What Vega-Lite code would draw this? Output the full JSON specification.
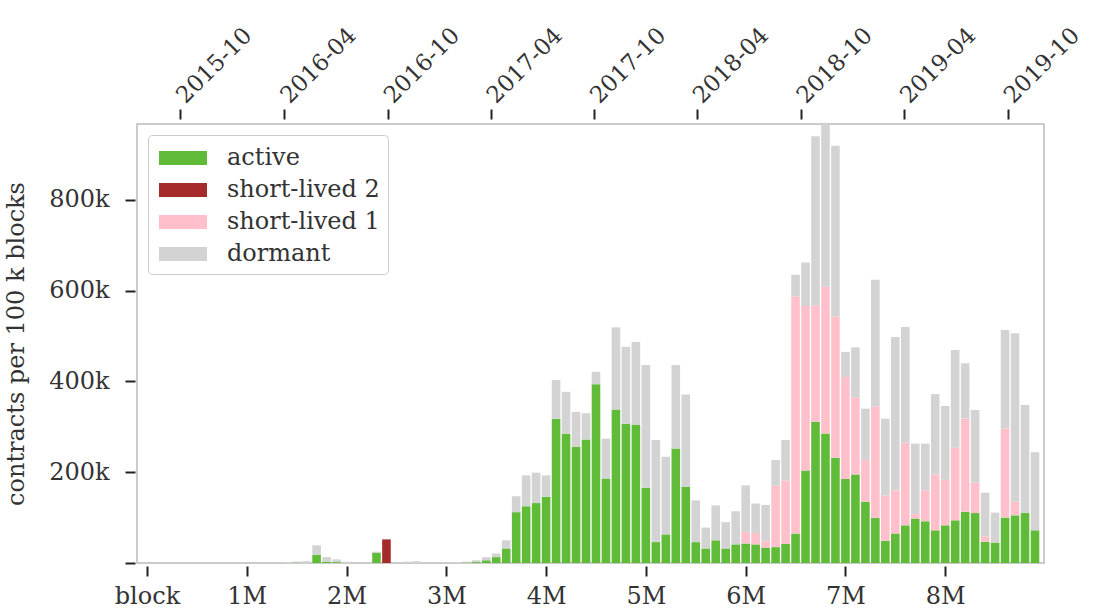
{
  "$schema": "https://vega.github.io/schema/vega-lite/v6.json",
  "width": 907,
  "height": 439,
  "autosize": {"type": "none"},
  "padding": {"left": 137, "top": 124, "right": 50, "bottom": 50},
  "config": {
    "view": {"stroke": "#bbbbbb", "strokeWidth": 1.5},
    "font": "DejaVu Serif"
  },
  "data": {
    "values": [
      {"b": 1400000, "active": 0, "short-lived 2": 0, "short-lived 1": 0, "dormant": 2000},
      {"b": 1500000, "active": 1000, "short-lived 2": 0, "short-lived 1": 0, "dormant": 2000},
      {"b": 1600000, "active": 0, "short-lived 2": 0, "short-lived 1": 0, "dormant": 4000},
      {"b": 1700000, "active": 18000, "short-lived 2": 0, "short-lived 1": 0, "dormant": 21000},
      {"b": 1800000, "active": 3000, "short-lived 2": 0, "short-lived 1": 0, "dormant": 10000},
      {"b": 1900000, "active": 2000, "short-lived 2": 0, "short-lived 1": 0, "dormant": 6000},
      {"b": 2000000, "active": 0, "short-lived 2": 0, "short-lived 1": 0, "dormant": 3000},
      {"b": 2300000, "active": 22000, "short-lived 2": 0, "short-lived 1": 0, "dormant": 3000},
      {"b": 2400000, "active": 0, "short-lived 2": 52000, "short-lived 1": 0, "dormant": 0},
      {"b": 2600000, "active": 0, "short-lived 2": 0, "short-lived 1": 0, "dormant": 3000},
      {"b": 2700000, "active": 0, "short-lived 2": 0, "short-lived 1": 0, "dormant": 4000},
      {"b": 3000000, "active": 0, "short-lived 2": 0, "short-lived 1": 0, "dormant": 1000},
      {"b": 3100000, "active": 0, "short-lived 2": 0, "short-lived 1": 0, "dormant": 2000},
      {"b": 3200000, "active": 1000, "short-lived 2": 0, "short-lived 1": 0, "dormant": 2000},
      {"b": 3300000, "active": 2000, "short-lived 2": 0, "short-lived 1": 0, "dormant": 4000},
      {"b": 3400000, "active": 6000, "short-lived 2": 0, "short-lived 1": 0, "dormant": 7000},
      {"b": 3500000, "active": 13000, "short-lived 2": 0, "short-lived 1": 0, "dormant": 8000},
      {"b": 3600000, "active": 32000, "short-lived 2": 0, "short-lived 1": 0, "dormant": 18000},
      {"b": 3700000, "active": 112000, "short-lived 2": 0, "short-lived 1": 0, "dormant": 35000},
      {"b": 3800000, "active": 125000, "short-lived 2": 0, "short-lived 1": 0, "dormant": 68000},
      {"b": 3900000, "active": 132000, "short-lived 2": 0, "short-lived 1": 0, "dormant": 67000},
      {"b": 4000000, "active": 146000, "short-lived 2": 0, "short-lived 1": 0, "dormant": 47000},
      {"b": 4100000, "active": 318000, "short-lived 2": 0, "short-lived 1": 0, "dormant": 85000},
      {"b": 4200000, "active": 284000, "short-lived 2": 0, "short-lived 1": 0, "dormant": 93000},
      {"b": 4300000, "active": 256000, "short-lived 2": 0, "short-lived 1": 0, "dormant": 77000},
      {"b": 4400000, "active": 272000, "short-lived 2": 0, "short-lived 1": 0, "dormant": 58000},
      {"b": 4500000, "active": 394000, "short-lived 2": 0, "short-lived 1": 0, "dormant": 27000},
      {"b": 4600000, "active": 186000, "short-lived 2": 0, "short-lived 1": 0, "dormant": 88000},
      {"b": 4700000, "active": 338000, "short-lived 2": 0, "short-lived 1": 0, "dormant": 181000},
      {"b": 4800000, "active": 307000, "short-lived 2": 0, "short-lived 1": 0, "dormant": 169000},
      {"b": 4900000, "active": 304000, "short-lived 2": 0, "short-lived 1": 0, "dormant": 183000},
      {"b": 5000000, "active": 166000, "short-lived 2": 0, "short-lived 1": 0, "dormant": 270000},
      {"b": 5100000, "active": 46000, "short-lived 2": 0, "short-lived 1": 0, "dormant": 225000},
      {"b": 5200000, "active": 63000, "short-lived 2": 0, "short-lived 1": 0, "dormant": 171000},
      {"b": 5300000, "active": 252000, "short-lived 2": 0, "short-lived 1": 0, "dormant": 184000},
      {"b": 5400000, "active": 168000, "short-lived 2": 0, "short-lived 1": 0, "dormant": 203000},
      {"b": 5500000, "active": 46000, "short-lived 2": 0, "short-lived 1": 0, "dormant": 92000},
      {"b": 5600000, "active": 32000, "short-lived 2": 0, "short-lived 1": 0, "dormant": 46000},
      {"b": 5700000, "active": 50000, "short-lived 2": 0, "short-lived 1": 0, "dormant": 77000},
      {"b": 5800000, "active": 32000, "short-lived 2": 0, "short-lived 1": 0, "dormant": 58000},
      {"b": 5900000, "active": 41000, "short-lived 2": 0, "short-lived 1": 0, "dormant": 73000},
      {"b": 6000000, "active": 43000, "short-lived 2": 0, "short-lived 1": 25000, "dormant": 103000},
      {"b": 6100000, "active": 41000, "short-lived 2": 0, "short-lived 1": 25000, "dormant": 65000},
      {"b": 6200000, "active": 34000, "short-lived 2": 0, "short-lived 1": 14000, "dormant": 80000},
      {"b": 6300000, "active": 35000, "short-lived 2": 0, "short-lived 1": 135000, "dormant": 57000},
      {"b": 6400000, "active": 42000, "short-lived 2": 0, "short-lived 1": 140000, "dormant": 89000},
      {"b": 6500000, "active": 65000, "short-lived 2": 0, "short-lived 1": 522000, "dormant": 48000},
      {"b": 6600000, "active": 204000, "short-lived 2": 0, "short-lived 1": 362000, "dormant": 96000},
      {"b": 6700000, "active": 311000, "short-lived 2": 0, "short-lived 1": 257000, "dormant": 372000},
      {"b": 6800000, "active": 285000, "short-lived 2": 0, "short-lived 1": 324000, "dormant": 361000},
      {"b": 6900000, "active": 232000, "short-lived 2": 0, "short-lived 1": 311000, "dormant": 376000},
      {"b": 7000000, "active": 185000, "short-lived 2": 0, "short-lived 1": 225000, "dormant": 55000},
      {"b": 7100000, "active": 195000, "short-lived 2": 0, "short-lived 1": 170000, "dormant": 110000},
      {"b": 7200000, "active": 135000, "short-lived 2": 0, "short-lived 1": 92000, "dormant": 113000},
      {"b": 7300000, "active": 99000, "short-lived 2": 0, "short-lived 1": 246000, "dormant": 279000},
      {"b": 7400000, "active": 49000, "short-lived 2": 0, "short-lived 1": 100000, "dormant": 169000},
      {"b": 7500000, "active": 65000, "short-lived 2": 0, "short-lived 1": 95000, "dormant": 338000},
      {"b": 7600000, "active": 83000, "short-lived 2": 0, "short-lived 1": 182000, "dormant": 255000},
      {"b": 7700000, "active": 98000, "short-lived 2": 0, "short-lived 1": 10000, "dormant": 155000},
      {"b": 7800000, "active": 92000, "short-lived 2": 0, "short-lived 1": 68000, "dormant": 103000},
      {"b": 7900000, "active": 72000, "short-lived 2": 0, "short-lived 1": 123000, "dormant": 177000},
      {"b": 8000000, "active": 83000, "short-lived 2": 0, "short-lived 1": 100000, "dormant": 163000},
      {"b": 8100000, "active": 94000, "short-lived 2": 0, "short-lived 1": 160000, "dormant": 215000},
      {"b": 8200000, "active": 113000, "short-lived 2": 0, "short-lived 1": 205000, "dormant": 122000},
      {"b": 8300000, "active": 110000, "short-lived 2": 0, "short-lived 1": 67000, "dormant": 160000},
      {"b": 8400000, "active": 47000, "short-lived 2": 0, "short-lived 1": 12000, "dormant": 96000},
      {"b": 8500000, "active": 45000, "short-lived 2": 0, "short-lived 1": 0, "dormant": 66000},
      {"b": 8600000, "active": 100000, "short-lived 2": 0, "short-lived 1": 196000, "dormant": 217000},
      {"b": 8700000, "active": 105000, "short-lived 2": 0, "short-lived 1": 30000, "dormant": 371000},
      {"b": 8800000, "active": 110000, "short-lived 2": 0, "short-lived 1": 0, "dormant": 238000},
      {"b": 8900000, "active": 72000, "short-lived 2": 0, "short-lived 1": 0, "dormant": 172000}
    ]
  },
  "transform": [
    {"fold": ["active", "short-lived 2", "short-lived 1", "dormant"], "as": ["cat", "v"]},
    {"filter": "datum.v > 0"},
    {"calculate": "indexof(['active', 'short-lived 2', 'short-lived 1', 'dormant'], datum.cat)", "as": "k"}
  ],
  "layer": [
    {
      "mark": {"type": "bar", "width": 8.6, "clip": true},
      "encoding": {
        "x": {
          "field": "b",
          "type": "quantitative",
          "scale": {"domain": [-50000, 8940000], "nice": false, "zero": false},
          "axis": {
            "orient": "bottom",
            "values": [0, 1000000, 2000000, 3000000, 4000000, 5000000, 6000000, 7000000, 8000000],
            "labelExpr": "datum.value == 0 ? 'block' : format(datum.value / 1000000, 'd') + 'M'",
            "domain": false,
            "grid": false,
            "tickSize": 10,
            "tickWidth": 2,
            "tickColor": "#222222",
            "offset": 3,
            "labelFont": "DejaVu Serif",
            "labelFontSize": 24,
            "labelColor": "#333333",
            "labelPadding": 8,
            "title": null
          }
        },
        "y": {
          "field": "v",
          "type": "quantitative",
          "stack": "zero",
          "scale": {"domain": [0, 967000], "nice": false},
          "axis": {
            "values": [0, 200000, 400000, 600000, 800000],
            "labelExpr": "datum.value == 0 ? '' : format(datum.value / 1000, 'd') + 'k'",
            "domain": false,
            "grid": false,
            "tickSize": 10,
            "tickWidth": 2,
            "tickColor": "#222222",
            "offset": 2,
            "labelFont": "DejaVu Serif",
            "labelFontSize": 24,
            "labelColor": "#333333",
            "labelPadding": 16,
            "title": "contracts per 100 k blocks",
            "titleFont": "DejaVu Serif",
            "titleFontSize": 24,
            "titleFontWeight": "normal",
            "titleColor": "#333333",
            "titlePadding": 20
          }
        },
        "color": {
          "field": "cat",
          "type": "nominal",
          "sort": ["active", "short-lived 2", "short-lived 1", "dormant"],
          "scale": {
            "domain": ["active", "short-lived 2", "short-lived 1", "dormant"],
            "range": ["#60bb38", "#a52a2a", "#ffc0cb", "#d3d3d3"]
          },
          "legend": {
            "title": null,
            "orient": "top-left",
            "offset": 11,
            "fillColor": "white",
            "strokeColor": "#cccccc",
            "cornerRadius": 4,
            "padding": 8,
            "symbolType": "M-0.8,-0.47H2.4V0.47H-0.8Z",
            "symbolSize": 900,
            "symbolStrokeWidth": 0,
            "symbolOpacity": 1,
            "rowPadding": 5,
            "labelOffset": 41,
            "labelFont": "DejaVu Serif",
            "labelFontSize": 24,
            "labelColor": "#333333",
            "labelLimit": 300
          }
        },
        "order": {"field": "k", "type": "quantitative", "sort": "ascending"}
      }
    },
    {
      "mark": {"type": "tick", "opacity": 0},
      "encoding": {
        "x": {
          "field": "b",
          "type": "quantitative",
          "axis": {
            "orient": "top",
            "values": [332000, 1376000, 2413000, 3444000, 4480000, 5510000, 6551000, 7587000, 8627000],
            "labelExpr": "['2015-10','2016-04','2016-10','2017-04','2017-10','2018-04','2018-10','2019-04','2019-10'][indexof([332000,1376000,2413000,3444000,4480000,5510000,6551000,7587000,8627000], datum.value)]",
            "domain": false,
            "grid": false,
            "tickSize": 10,
            "tickWidth": 2,
            "tickColor": "#222222",
            "offset": 5,
            "labelAngle": -45,
            "labelAlign": "left",
            "labelBaseline": "middle",
            "labelFont": "DejaVu Serif",
            "labelFontSize": 23,
            "labelColor": "#333333",
            "labelPadding": 10,
            "title": null
          }
        }
      }
    }
  ],
  "resolve": {"axis": {"x": "independent"}}
}
